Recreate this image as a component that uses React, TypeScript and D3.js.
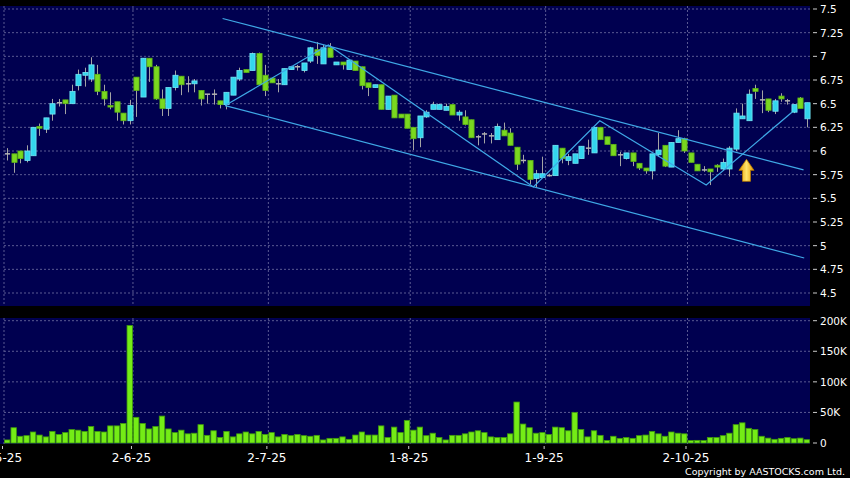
import React from "react";
import * as d3 from "d3";

// ---------- data ----------
const dateLabels = ["2-5-25", "2-6-25", "2-7-25", "1-8-25", "1-9-25", "2-10-25"];
const dateIndex = [0, 20, 41, 63, 84, 106];

const opens = [
  5.97, 5.97, 6.0, 5.9, 5.95, 6.26, 6.23, 6.39, 6.51, 6.54,
  6.5, 6.69, 6.8, 6.76, 6.81, 6.63, 6.48, 6.52, 6.4, 6.32,
  6.78, 6.57, 6.98, 6.89, 6.55, 6.45, 6.67, 6.79, 6.71, 6.71,
  6.64, 6.6, 6.6, 6.53, 6.49, 6.59, 6.76, 6.86, 6.85, 7.03,
  6.8, 6.77, 6.71, 6.7, 6.86, 6.89, 6.85, 6.95, 7.07, 6.92,
  7.09, 6.91, 6.94, 6.86, 6.95, 6.89, 6.72, 6.67, 6.7, 6.44,
  6.59, 6.39, 6.39, 6.25, 6.14, 6.36, 6.44, 6.44, 6.43, 6.49,
  6.38, 6.36, 6.33, 6.15, 6.18, 6.16, 6.12, 6.22, 6.19, 6.04,
  5.9, 5.9, 5.71, 5.72, 5.74, 5.74, 6.03, 5.9, 5.87, 5.92,
  6.03, 5.98, 6.25, 6.15, 6.07, 5.96, 5.92, 5.98, 5.87, 5.82,
  5.79, 5.96, 6.06, 5.83, 6.09, 6.13, 5.98, 5.86, 5.8, 5.81,
  5.85, 5.81, 5.81, 6.02, 6.34, 6.32, 6.66, 6.54, 6.55, 6.42,
  6.58, 6.53, 6.41, 6.56, 6.34,
];
const highs = [
  6.03, 5.97, 6.0, 6.06, 6.25, 6.29, 6.35, 6.55, 6.55, 6.54,
  6.7, 6.86, 6.88, 6.99, 6.91, 6.7, 6.62, 6.52, 6.4, 6.54,
  6.78, 6.98, 6.98, 6.91, 6.65, 6.67, 6.85, 6.79, 6.79, 6.76,
  6.64, 6.6, 6.65, 6.53, 6.62, 6.78, 6.88, 6.86, 7.04, 7.04,
  6.91, 6.77, 6.76, 6.87, 6.9, 6.91, 6.93, 7.1, 7.15, 7.12,
  7.14, 6.94, 6.94, 6.96, 6.95, 6.89, 6.72, 6.7, 6.7, 6.58,
  6.59, 6.39, 6.39, 6.25, 6.37, 6.43, 6.52, 6.5, 6.5, 6.49,
  6.43, 6.43, 6.33, 6.17, 6.2, 6.19, 6.29, 6.3, 6.24, 6.04,
  5.96, 5.9, 5.8, 5.94, 5.76, 6.06, 6.03, 5.97, 5.97, 6.05,
  6.12, 6.25, 6.25, 6.15, 6.07, 5.99, 5.98, 5.98, 5.87, 5.82,
  5.97, 6.19, 6.06, 6.09, 6.22, 6.14, 5.98, 5.86, 5.84, 5.81,
  5.86, 5.92, 6.05, 6.45, 6.5, 6.65, 6.7, 6.64, 6.55, 6.55,
  6.61, 6.55, 6.49, 6.57, 6.51,
];
const lows = [
  5.9, 5.77, 5.87, 5.88, 5.95, 6.16, 6.19, 6.32, 6.47, 6.39,
  6.5, 6.64, 6.68, 6.73, 6.59, 6.48, 6.44, 6.32, 6.28, 6.28,
  6.36, 6.57, 6.73, 6.54, 6.37, 6.37, 6.64, 6.59, 6.62, 6.62,
  6.48, 6.5, 6.49, 6.45, 6.44, 6.59, 6.74, 6.83, 6.85, 6.7,
  6.58, 6.72, 6.62, 6.7, 6.86, 6.85, 6.83, 6.93, 6.92, 6.92,
  6.99, 6.91, 6.86, 6.86, 6.85, 6.65, 6.58, 6.67, 6.44, 6.44,
  6.35, 6.35, 6.24, 6.01, 6.04, 6.35, 6.44, 6.44, 6.43, 6.38,
  6.32, 6.27, 6.14, 6.06, 6.08, 6.08, 6.12, 6.16, 6.06, 5.8,
  5.87, 5.65, 5.62, 5.72, 5.73, 5.74, 5.87, 5.85, 5.87, 5.92,
  5.96, 5.98, 6.12, 6.07, 5.95, 5.84, 5.91, 5.84, 5.8, 5.76,
  5.7, 5.94, 5.83, 5.83, 6.09, 5.98, 5.88, 5.79, 5.78, 5.64,
  5.78, 5.79, 5.73, 6.0, 6.34, 6.32, 6.55, 6.4, 6.41, 6.39,
  6.52, 6.49, 6.4, 6.45, 6.25,
];
const closes = [
  5.97, 5.88, 5.92, 6.0, 6.25, 6.24, 6.35, 6.5, 6.51, 6.5,
  6.63, 6.81, 6.83, 6.91, 6.63, 6.55, 6.47, 6.41, 6.32, 6.48,
  6.64, 6.98, 6.89, 6.55, 6.45, 6.67, 6.8, 6.7, 6.71, 6.74,
  6.55, 6.6, 6.6, 6.49, 6.62, 6.78, 6.85, 6.83, 7.03, 6.7,
  6.64, 6.72, 6.71, 6.87, 6.89, 6.89, 6.93, 7.09, 7.01, 7.09,
  6.99, 6.94, 6.91, 6.96, 6.85, 6.69, 6.67, 6.7, 6.44, 6.58,
  6.35, 6.35, 6.24, 6.13, 6.37, 6.41, 6.49, 6.49, 6.47, 6.38,
  6.41, 6.28, 6.14, 6.15, 6.18, 6.16, 6.26, 6.16, 6.06, 5.86,
  5.9, 5.7, 5.76, 5.76, 5.74, 6.06, 5.92, 5.94, 5.97, 6.05,
  6.03, 6.25, 6.12, 6.07, 5.95, 5.96, 5.98, 5.89, 5.82, 5.79,
  5.97, 6.01, 5.84, 6.09, 6.13, 6.0, 5.88, 5.79, 5.8, 5.78,
  5.83, 5.88, 6.03, 6.4, 6.37, 6.6, 6.63, 6.54, 6.43, 6.53,
  6.55, 6.53, 6.49, 6.45, 6.51,
];
// volume in thousands
const volumes = [
  5, 25, 11, 12, 18, 13, 10, 19, 14, 17,
  22, 21, 19, 27, 19, 18, 28, 28, 32, 192,
  42, 32, 23, 27, 44, 23, 17, 21, 15, 16,
  30, 12.5, 20, 9, 19, 10, 15, 18, 15, 19,
  14, 17, 10, 14, 12, 14, 12, 11, 12.5, 5,
  7.6, 7.6, 10, 6, 13, 18, 13, 13, 28, 9,
  26, 17, 37, 21, 26, 12, 16, 9, 5, 12.5,
  12.5, 15, 18, 20, 17, 10, 9, 9, 15, 67,
  31, 25, 16, 17, 14, 26, 25, 20, 50, 22,
  10, 20, 12.5, 4, 11, 7.6, 9, 7.6, 12, 13,
  19, 15, 11, 18, 16, 15, 4, 4.3, 4, 9,
  9, 12, 16, 30, 33, 24, 22, 11, 8, 6,
  7.6, 9, 7, 8, 5.4,
];

const priceTicks = [7.5, 7.25, 7, 6.75, 6.5, 6.25, 6, 5.75, 5.5, 5.25, 5, 4.75, 4.5];
const priceTickLabels = ["7.5", "7.25", "7", "6.75", "6.5", "6.25", "6", "5.75", "5.5", "5.25", "5", "4.75", "4.5"];
const volumeTicks = [0, 50, 100, 150, 200];
const volumeTickLabels = ["0", "50K", "100K", "150K", "200K"];

// trend lines: [candle index, price]
const channelUpper: [number, number][] = [[33.4, 7.4], [123.5, 5.8]];
const channelLower: [number, number][] = [[33.8, 6.48], [123.6, 4.87]];
const zigzag: [number, number][] = [
  [33.8, 6.48], [49.8, 7.12], [81.6, 5.62], [91.9, 6.32], [108.4, 5.64], [121.7, 6.41],
];
const arrowPoint: [number, number] = [114.65, 5.912];

const copyright = "Copyright by AASTOCKS.com Ltd.";

// ---------- component ----------
export default function App() {
  const N = closes.length;
  const left = 4;
  const right = 810;
  const idx = d3.range(N);
  const band = d3.scaleBand<number>().domain(idx).range([left, right]).padding(0);
  const xi = d3.scaleLinear().domain([-0.5, N - 0.5]).range([left, right]);
  const step = band.step();
  const bodyW = step * 0.8;

  const y = d3.scaleLinear().domain([4.5, 7.5]).range([293, 9]);
  const yv = d3.scaleLinear().domain([0, 200]).range([443, 320.7]);

  const font = "'DejaVu Sans', Verdana, sans-serif";
  const gridColor = "#5a5a92";
  const lineColor = "#3fa8e6";

  const lineGen = d3
    .line<[number, number]>()
    .x((d) => xi(d[0]))
    .y((d) => y(d[1]));

  const ax = xi(arrowPoint[0]);
  const ay = y(arrowPoint[1]);
  const arrowPath = `M${ax},${ay} L${ax + 7.5},${ay + 11} L${ax + 4},${ay + 11} L${ax + 4},${ay + 22} L${ax - 4},${ay + 22} L${ax - 4},${ay + 11} L${ax - 7.5},${ay + 11} Z`;

  const monthX = dateIndex.map((i) => band(i) as number);

  return (
    <div style={{ position: "absolute", left: 0, top: 0 }}>
      <svg width={850} height={478} style={{ display: "block", background: "#000" }}>
        <defs>
          <linearGradient id="arrowGrad" x1="0" x2="1" y1="0" y2="0">
            <stop offset="0" stopColor="#e69a00" />
            <stop offset="0.5" stopColor="#ffe46a" />
            <stop offset="1" stopColor="#e69a00" />
          </linearGradient>
        </defs>
        <rect x={0} y={0} width={850} height={478} fill="#000" />
        {/* panels */}
        <rect x={0} y={6} width={right} height={300} fill="#000050" />
        <rect x={0} y={318} width={right} height={126} fill="#000050" />

        {/* price grid */}
        {priceTicks.map((p, k) => (
          <g key={"pg" + k}>
            <line x1={left} x2={right} y1={y(p)} y2={y(p)} stroke={gridColor} strokeDasharray="2,2" />
            <line x1={813} x2={817} y1={y(p)} y2={y(p)} stroke="#ccc" />
            <text x={820} y={y(p) + 4} fill="#fff" fontSize={10.5} fontFamily={font}>
              {priceTickLabels[k]}
            </text>
          </g>
        ))}
        {/* volume grid */}
        {volumeTicks.map((v, k) => (
          <g key={"vg" + k}>
            {v > 0 && (
              <line x1={left} x2={right} y1={yv(v)} y2={yv(v)} stroke={gridColor} strokeDasharray="2,2" />
            )}
            <line x1={813} x2={817} y1={yv(v)} y2={yv(v)} stroke="#ccc" />
            <text x={820} y={yv(v) + 4} fill="#fff" fontSize={10.5} fontFamily={font}>
              {volumeTickLabels[k]}
            </text>
          </g>
        ))}
        {/* vertical month grid */}
        {monthX.map((mx, k) => (
          <g key={"mg" + k}>
            <line x1={mx} x2={mx} y1={6} y2={306} stroke={gridColor} strokeDasharray="2,2" />
            <line x1={mx} x2={mx} y1={318} y2={444} stroke={gridColor} strokeDasharray="2,2" />
            <line x1={mx - 1.5} x2={mx - 1.5} y1={446} y2={449} stroke="#ccc" />
            <text x={mx - 1.5} y={462} fill="#fff" fontSize={12} fontFamily={font} textAnchor="middle">
              {dateLabels[k]}
            </text>
          </g>
        ))}

        {/* volume bars */}
        {idx.map((i) => {
          const x0 = xi(i) - step * 0.42;
          return (
            <rect
              key={"v" + i}
              x={x0}
              y={yv(volumes[i])}
              width={step * 0.84}
              height={yv(0) - yv(volumes[i])}
              fill="#74ec16"
              stroke="#3f9a0c"
              strokeWidth={0.8}
            />
          );
        })}

        {/* candles */}
        {idx.map((i) => {
          const o = opens[i], c = closes[i], h = highs[i], l = lows[i];
          const cx = Math.round(xi(i)) + 0.5;
          const doji = Math.abs(o - c) < 0.005;
          const up = c > o;
          const top = y(Math.max(o, c));
          const bot = y(Math.min(o, c));
          return (
            <g key={"c" + i}>
              <line x1={cx} x2={cx} y1={y(h)} y2={y(l)} stroke="#a4a4a4" strokeWidth={1} />
              {doji ? (
                <line x1={cx - bodyW / 2} x2={cx + bodyW / 2} y1={y(o)} y2={y(o)} stroke="#b4b4b4" strokeWidth={1.5} />
              ) : (
                <rect
                  x={cx - bodyW / 2}
                  y={top}
                  width={bodyW}
                  height={Math.max(1.5, bot - top)}
                  fill={up ? "#33d6ee" : "#7ad820"}
                  stroke={up ? "#74e6f6" : "#5cb514"}
                  strokeWidth={0.8}
                />
              )}
            </g>
          );
        })}

        {/* trend lines */}
        <path d={lineGen(channelUpper) as string} fill="none" stroke={lineColor} strokeWidth={1.2} />
        <path d={lineGen(channelLower) as string} fill="none" stroke={lineColor} strokeWidth={1.2} />
        <path d={lineGen(zigzag) as string} fill="none" stroke={lineColor} strokeWidth={1.2} />

        {/* arrow */}
        <path d={arrowPath} fill="url(#arrowGrad)" stroke="#b67a00" strokeWidth={0.8} />

        <text x={845} y={475} fill="#fff" fontSize={9.5} fontFamily={font} textAnchor="end">
          {copyright}
        </text>
      </svg>
    </div>
  );
}
